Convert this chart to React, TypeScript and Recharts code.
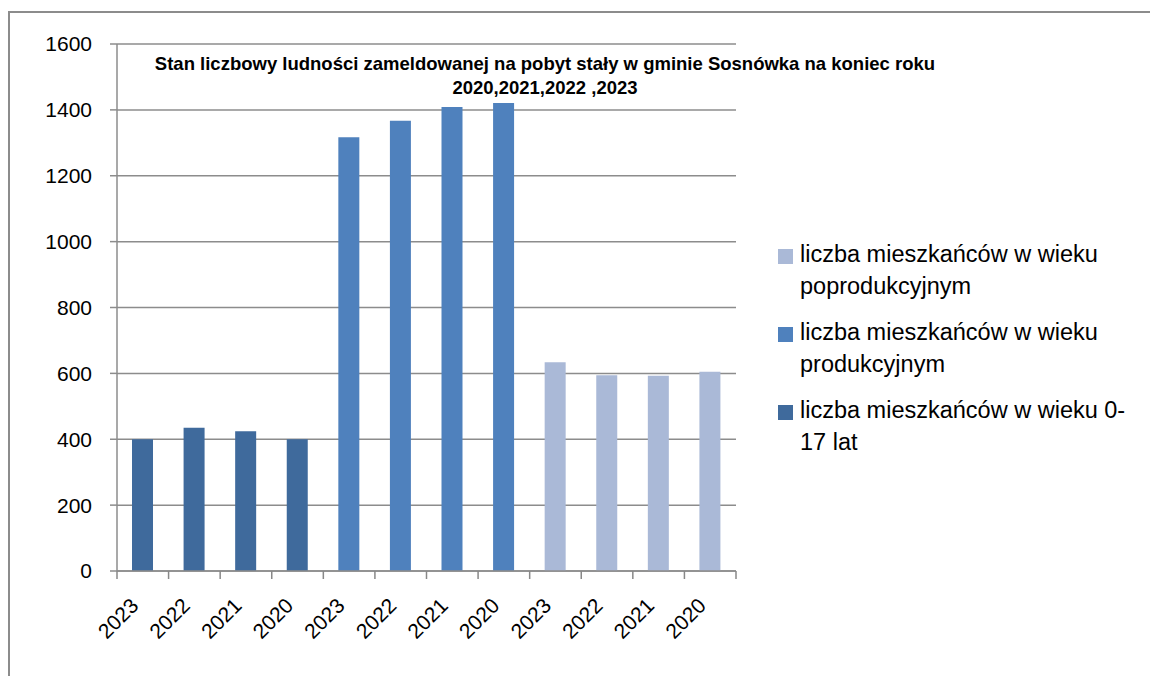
import React from 'react';
import { BarChart, Bar, XAxis, YAxis, CartesianGrid } from 'recharts';

const years = ['2023', '2022', '2021', '2020'];
const youngValues = [400, 435, 424, 400];
const workingValues = [1317, 1367, 1409, 1421];
const olderValues = [634, 594, 593, 605];
const yTicks = [0, 200, 400, 600, 800, 1000, 1200, 1400, 1600];

const labelYoung = 'liczba mieszkańców w wieku 0-17 lat';
const labelWorking = 'liczba mieszkańców w wieku produkcyjnym';
const labelOlder = 'liczba mieszkańców w wieku poprodukcyjnym';

const COLORS = { young: '#3F6A9C', working: '#4F81BD', older: '#AAB9D7' };

const data = [
  ...years.map((y, i) => ({ year: y, young: youngValues[i] })),
  ...years.map((y, i) => ({ year: y, working: workingValues[i] })),
  ...years.map((y, i) => ({ year: y, older: olderValues[i] })),
];

const FONT = '"Liberation Sans", Arial, sans-serif';
const PLOT_LEFT = 117;
const PLOT_RIGHT = 736;
const PLOT_TOP = 44;
const PLOT_BOTTOM = 571;
const BAND = (PLOT_RIGHT - PLOT_LEFT) / data.length;

const XTick = (props: any) => {
  const { x, y, payload, index } = props;
  const left = x - BAND / 2;
  return (
    <g>
      <line x1={left} y1={y - 8} x2={left} y2={y} stroke="#888" strokeWidth={1.5} />
      {index === data.length - 1 && (
        <line x1={left + BAND} y1={y - 8} x2={left + BAND} y2={y} stroke="#888" strokeWidth={1.5} />
      )}
      <text
        x={x - 3}
        y={y + 28}
        textAnchor="end"
        transform={`rotate(-45, ${x - 3}, ${y + 28})`}
        fontSize={21}
        fontFamily={FONT}
        fill="#000"
      >
        {payload.value}
      </text>
    </g>
  );
};

const legendItems = [
  { color: COLORS.older, lines: ['liczba mieszkańców w wieku', 'poprodukcyjnym'], top: 238 },
  { color: COLORS.working, lines: ['liczba mieszkańców w wieku', 'produkcyjnym'], top: 316 },
  { color: COLORS.young, lines: ['liczba mieszkańców w wieku 0-', '17 lat'], top: 394 },
];

export default function App() {
  return (
    <div style={{ position: 'absolute', left: 0, top: 0, width: 1150, height: 676, background: '#fff', overflow: 'hidden', fontFamily: FONT }}>
      <div style={{ position: 'absolute', left: 8, top: 11, width: 1200, height: 800, border: '2px solid #8c8c8c' }} />
      <BarChart
        width={1150}
        height={676}
        data={data}
        margin={{ top: PLOT_TOP, right: 1150 - PLOT_RIGHT, bottom: 0, left: PLOT_LEFT - 70 }}
        barSize={21}
        style={{ position: 'absolute', left: 0, top: 0 }}
      >
        <CartesianGrid vertical={false} stroke="#8c8c8c" strokeWidth={1.5} />
        <YAxis
          width={70}
          domain={[0, 1600]}
          ticks={yTicks}
          interval={0}
          tickSize={7}
          tickMargin={18}
          stroke="#8c8c8c"
          strokeWidth={1.5}
          tick={{ fill: '#000', fontSize: 21, fontFamily: FONT }}
        />
        <XAxis
          dataKey="year"
          interval={0}
          tickLine={false}
          stroke="#8c8c8c"
          strokeWidth={1.5}
          height={676 - PLOT_BOTTOM}
          tick={<XTick />}
        />
        <Bar dataKey="young" name={labelYoung} stackId="a" fill={COLORS.young} isAnimationActive={false} />
        <Bar dataKey="working" name={labelWorking} stackId="a" fill={COLORS.working} isAnimationActive={false} />
        <Bar dataKey="older" name={labelOlder} stackId="a" fill={COLORS.older} isAnimationActive={false} />
      </BarChart>
      <div style={{ position: 'absolute', left: 95, top: 52, width: 900, textAlign: 'center', fontWeight: 'bold', fontSize: 18.5, lineHeight: '24px', color: '#000', whiteSpace: 'nowrap' }}>
        Stan liczbowy ludności zameldowanej na pobyt stały w gminie Sosnówka na koniec roku
        <br />
        2020,2021,2022 ,2023
      </div>
      {legendItems.map((item) => (
        <div key={item.color} style={{ position: 'absolute', left: 778, top: item.top }}>
          <div style={{ position: 'absolute', left: 0, top: 11, width: 15, height: 15, background: item.color }} />
          <div style={{ position: 'absolute', left: 22, top: 0, fontSize: 23.5, lineHeight: '32px', whiteSpace: 'nowrap', color: '#000' }}>
            {item.lines[0]}
            <br />
            {item.lines[1]}
          </div>
        </div>
      ))}
    </div>
  );
}
